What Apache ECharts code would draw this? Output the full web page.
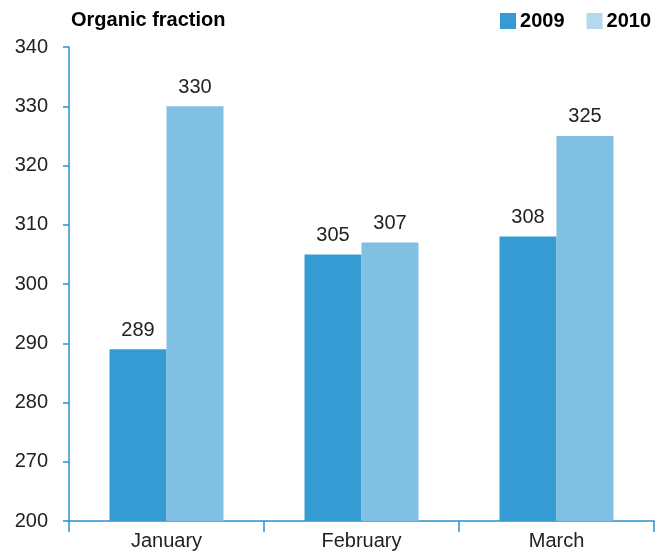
<!DOCTYPE html>
<html>
<head>
<meta charset="utf-8">
<script src="https://cdn.jsdelivr.net/npm/echarts@6/dist/echarts.min.js"></script>
<style>
  html, body { margin: 0; padding: 0; background: #fff; }
  #chart { width: 656px; height: 553px; }
</style>
</head>
<body>
<div id="chart"></div>
<script>
// data
const months = ['January', 'February', 'March'];
const values2009 = [289, 305, 308];
const values2010 = [330, 307, 325];
// the axis is broken: the bottom tick (260 on the scale) is labelled 200
const yTickLabels = ['200', '270', '280', '290', '300', '310', '320', '330', '340'];

const dark = '#359bd3';
const light = '#80c0e3';
const axisBlue = '#2b90cf';
const font = 'Liberation Sans';

const chart = echarts.init(document.getElementById('chart'));
chart.setOption({
  animation: false,
  textStyle: { fontFamily: font },
  title: {
    text: 'Organic fraction',
    left: 66, top: 5,
    textStyle: { fontFamily: font, fontSize: 20, fontWeight: 'bold', color: '#000' }
  },
  legend: {
    right: 0, top: 6,
    itemWidth: 16, itemHeight: 16, itemGap: 22,
    icon: 'rect',
    textStyle: { fontFamily: font, fontSize: 20, fontWeight: 'bold', color: '#000', padding: [0, 0, 0, -1] },
    data: [
      { name: '2009', itemStyle: { color: dark } },
      { name: '2010', itemStyle: { color: '#b3d9ef' } }
    ]
  },
  grid: { left: 69, right: 2, top: 47, bottom: 32 },
  xAxis: {
    type: 'category',
    data: months,
    axisLine: { lineStyle: { color: axisBlue, width: 1.5 } },
    axisTick: { show: true, alignWithLabel: false, length: 11, lineStyle: { color: axisBlue, width: 1.5 } },
    axisLabel: { fontSize: 20, color: '#222', margin: 10 }
  },
  yAxis: {
    type: 'value',
    min: 260, max: 340, interval: 10,
    splitLine: { show: false },
    axisLine: { show: true, lineStyle: { color: axisBlue, width: 1.5 } },
    axisTick: { show: true, length: 6, lineStyle: { color: axisBlue, width: 1.5 } },
    axisLabel: {
      fontSize: 20, color: '#222', margin: 21,
      formatter: (v, i) => yTickLabels[i]
    }
  },
  series: [
    {
      name: '2009', type: 'bar', data: values2009,
      barWidth: 57, barGap: '0%',
      itemStyle: { color: dark },
      label: { show: true, position: 'top', distance: 9, fontSize: 20, color: '#222' }
    },
    {
      name: '2010', type: 'bar', data: values2010,
      barWidth: 57,
      itemStyle: { color: light },
      label: { show: true, position: 'top', distance: 9, fontSize: 20, color: '#222' }
    }
  ]
});
</script>
</body>
</html>
